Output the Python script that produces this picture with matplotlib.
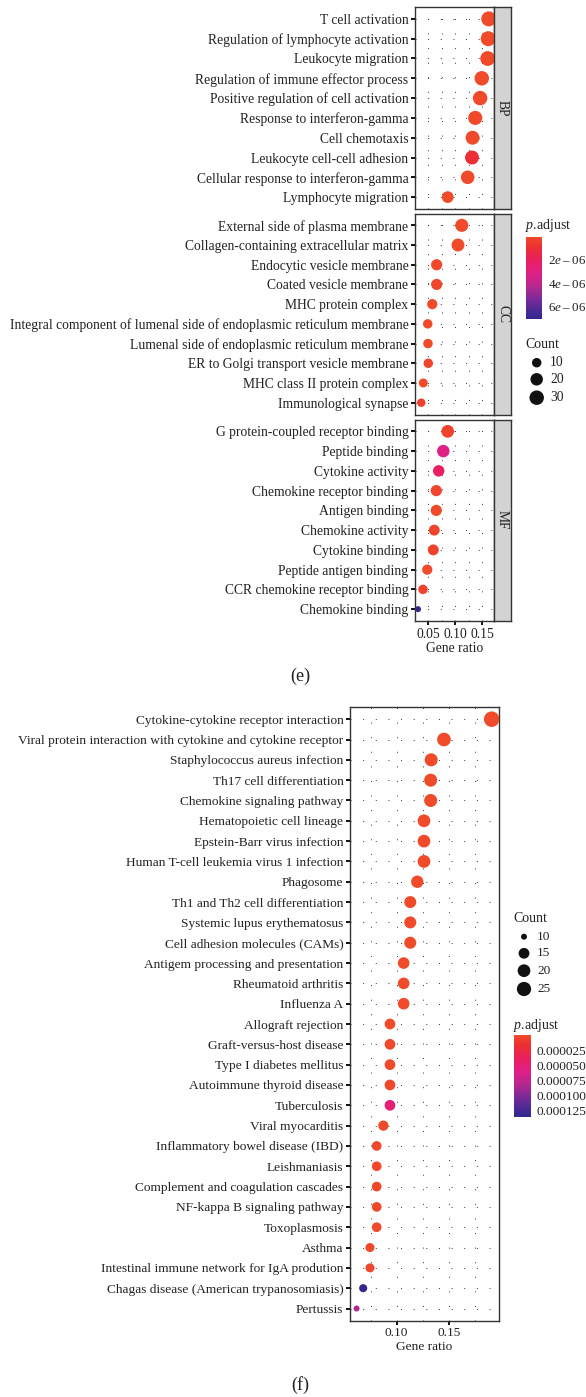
import matplotlib
matplotlib.use('Agg')
import matplotlib.pyplot as plt
import numpy as np
from matplotlib.colors import LinearSegmentedColormap, Normalize
from matplotlib.cm import ScalarMappable

plt.rcParams['font.family'] = ['Liberation Serif', 'DejaVu Serif']
plt.rcParams['mathtext.fontset'] = 'custom'
plt.rcParams['mathtext.it'] = 'Liberation Serif:italic'
plt.rcParams['mathtext.rm'] = 'Liberation Serif'
plt.rcParams['axes.unicode_minus'] = True

# ---------------- data: panel (e) ----------------
bp_terms = ["T cell activation", "Regulation of lymphocyte activation", "Leukocyte migration",
            "Regulation of immune effector process", "Positive regulation of cell activation",
            "Response to interferon-gamma", "Cell chemotaxis", "Leukocyte cell-cell adhesion",
            "Cellular response to interferon-gamma", "Lymphocyte migration"]
bp_ratio = [0.162, 0.161, 0.160, 0.149, 0.146, 0.137, 0.132, 0.131, 0.123, 0.086]
bp_count = [33, 33, 32, 30, 30, 28, 27, 27, 25, 17]
bp_padj = [1.2e-12, 3.5e-11, 8.0e-12, 2.1e-10, 5.6e-10, 1.4e-09, 3.0e-09, 9.5e-07, 2.2e-08, 4.5e-08]

cc_terms = ["External side of plasma membrane", "Collagen-containing extracellular matrix",
            "Endocytic vesicle membrane", "Coated vesicle membrane", "MHC protein complex",
            "Integral component of lumenal side of endoplasmic reticulum membrane",
            "Lumenal side of endoplasmic reticulum membrane", "ER to Golgi transport vesicle membrane",
            "MHC class II protein complex", "Immunological synapse"]
cc_ratio = [0.112, 0.105, 0.0655, 0.0655, 0.0574, 0.049, 0.0494, 0.050, 0.0407, 0.037]
cc_count = [23, 22, 15, 15, 12, 10, 10, 10, 9, 8]
cc_padj = [2e-08, 5e-08, 1e-07, 1.2e-07, 2e-09, 3e-09, 3e-09, 2e-07, 1e-08, 4e-07]

mf_terms = ["G protein-coupled receptor binding", "Peptide binding", "Cytokine activity",
            "Chemokine receptor binding", "Antigen binding", "Chemokine activity",
            "Cytokine binding", "Peptide antigen binding", "CCR chemokine receptor binding",
            "Chemokine binding"]
mf_ratio = [0.0859, 0.0778, 0.0693, 0.0648, 0.0648, 0.0611, 0.0593, 0.0481, 0.0402, 0.031]
mf_count = [21, 20, 16, 15, 15, 14, 14, 12, 10, 6]
mf_padj = [3e-07, 3.1e-06, 2.0e-06, 2e-07, 1e-08, 2e-07, 3e-07, 1e-08, 3e-07, 7.1e-06]

e_xticks = [0.05, 0.10, 0.15]
e_xticklabels = ["0.05", "0.10", "0.15"]
e_count_breaks = [10, 20, 30]
e_padj_breaks = [2e-06, 4e-06, 6e-06]
e_padj_labels = ["2$e$\u2009\u2013\u200906", "4$e$\u2009\u2013\u200906", "6$e$\u2009\u2013\u200906"]

# ---------------- data: panel (f) ----------------
kegg_terms = ["Cytokine-cytokine receptor interaction",
              "Viral protein interaction with cytokine and cytokine receptor",
              "Staphylococcus aureus infection", "Th17 cell differentiation",
              "Chemokine signaling pathway", "Hematopoietic cell lineage",
              "Epstein-Barr virus infection", "Human T-cell leukemia virus 1 infection",
              "Phagosome", "Th1 and Th2 cell differentiation", "Systemic lupus erythematosus",
              "Cell adhesion molecules (CAMs)", "Antigem processing and presentation",
              "Rheumatoid arthritis", "Influenza A", "Allograft rejection",
              "Graft-versus-host disease", "Type I diabetes mellitus",
              "Autoimmune thyroid disease", "Tuberculosis", "Viral myocarditis",
              "Inflammatory bowel disease (IBD)", "Leishmaniasis",
              "Complement and coagulation cascades", "NF-kappa B signaling pathway",
              "Toxoplasmosis", "Asthma", "Intestinal immune network for IgA prodution",
              "Chagas disease (American trypanosomiasis)", "Pertussis"]
kegg_ratio = [0.1908, 0.1452, 0.133, 0.1325, 0.1325, 0.1261, 0.1261, 0.1261, 0.1197,
              0.113, 0.113, 0.113, 0.1067, 0.1067, 0.1067, 0.0936, 0.0936, 0.0936, 0.0936,
              0.0936, 0.0873, 0.0809, 0.0809, 0.0809, 0.0809, 0.0809, 0.0745, 0.0745,
              0.068, 0.0617]
kegg_count = [30, 23, 21, 21, 21, 20, 20, 20, 19, 18, 18, 18, 17, 17, 17, 15, 15, 15, 15,
              15, 14, 13, 13, 13, 13, 13, 12, 12, 11, 10]
kegg_padj = [1e-12, 5e-10, 1e-09, 2e-09, 1e-09, 3e-09, 4e-08, 5e-08, 2e-07, 3e-07, 4e-07,
             5e-07, 6e-07, 7e-07, 8e-07, 1e-06, 1.1e-06, 1.2e-06, 1.3e-06, 5.1e-05, 1.5e-06,
             1.6e-06, 1.7e-06, 1.8e-06, 1.9e-06, 2.0e-06, 2.1e-06, 2.2e-06, 1.35e-04, 8.5e-05]
f_xticks = [0.10, 0.15]
f_xticklabels = ["0.10", "0.15"]
f_count_breaks = [10, 15, 20, 25]
f_padj_breaks = [2.5e-05, 5.0e-05, 7.5e-05, 1.0e-04, 1.25e-04]
f_padj_labels = ["0.000025", "0.000050", "0.000075", "0.000100", "0.000125"]

# ---------------- style ----------------
cmap = LinearSegmentedColormap.from_list("padj", [
    (0.0, '#EF4B2A'), (0.12, '#EC2F33'), (0.28, '#E8205E'), (0.45, '#DE2088'),
    (0.6, '#B8278F'), (0.75, '#7F2A98'), (0.9, '#4A2A94'), (1.0, '#33288C')])
TXT = '#222222'
FS_E = 9.85
FS_F = 9.6

W, H = 586, 1397
fig = plt.figure(figsize=(W / 100, H / 100), dpi=100)


def px_axes(x0, y0, x1, y1, **kw):
    return fig.add_axes([x0 / W, 1 - y1 / H, (x1 - x0) / W, (y1 - y0) / H], **kw)


def size_e(c):
    d = 6 + 9.0 * np.sqrt((np.asarray(c, float) - 6) / 27.0)
    return (d * 0.72) ** 2


def size_f(c):
    d = 6 + 9.5 * np.sqrt(np.clip((np.asarray(c, float) - 10) / 20.0, 0, None))
    return (d * 0.72) ** 2


def dot_panel(ax, terms, ratio, count, padj, xlim, norm, sizef, xticks, xticklabels,
              show_x, fs, minor=None):
    n = len(terms)
    y = np.arange(n, 0, -1)
    ax.set_xlim(*xlim)
    ax.set_ylim(0.4, n + 0.6)
    for yy in y:
        ax.axhline(yy, color='#333333', lw=0.7, ls=(0, (1, 12)), zorder=0)
    for xx in list(xticks) + list(minor or []):
        ax.axvline(xx, color='#333333', lw=0.7, ls=(0, (1, 14)), zorder=0)
    ax.scatter(ratio, y, s=sizef(count), c=padj, cmap=cmap, norm=norm,
               edgecolors='none', zorder=3)
    ax.set_yticks(y)
    ax.set_yticklabels(terms, fontsize=fs, color=TXT)
    ax.set_xticks(xticks)
    if show_x:
        ax.set_xticklabels(xticklabels, fontsize=fs, color=TXT)
    else:
        ax.set_xticklabels([])
    ax.tick_params(axis='y', length=3.2, width=1.4, pad=1.5, color='#111111')
    ax.tick_params(axis='x', length=3.2 if show_x else 0, width=1.4, pad=1.5, color='#111111')
    for s in ax.spines.values():
        s.set_color('#333333')
        s.set_linewidth(1.0)


def strip(y0, y1, label):
    sa = px_axes(494, y0, 511, y1)
    sa.set_facecolor('#D3D3D3')
    sa.set_xticks([]); sa.set_yticks([])
    for s in sa.spines.values():
        s.set_color('#333333'); s.set_linewidth(1.0)
    sa.text(0.5, 0.5, label, rotation=270, ha='center', va='center', fontsize=FS_E,
            color=TXT, transform=sa.transAxes)


# ---------------- panel (e) ----------------
norm_e = Normalize(vmin=0, vmax=7.1e-06)
xlim_e = (0.0254, 0.1717)
minor_e = [0.075, 0.125]
panels = [(bp_terms, bp_ratio, bp_count, bp_padj, 7, 209, "BP", False),
          (cc_terms, cc_ratio, cc_count, cc_padj, 213.5, 414.5, "CC", False),
          (mf_terms, mf_ratio, mf_count, mf_padj, 419.5, 621, "MF", True)]
for terms, ratio, count, padj, y0, y1, lab, showx in panels:
    ax = px_axes(415, y0, 494, y1)
    dot_panel(ax, terms, ratio, count, padj, xlim_e, norm_e, size_e, e_xticks,
              e_xticklabels, showx, FS_E, minor_e)
    if showx:
        ax.set_xlabel("Gene ratio", fontsize=FS_E, color=TXT, labelpad=1)
    strip(y0, y1, lab)

# ---------------- panel (f) ----------------
norm_f = Normalize(vmin=0, vmax=1.35e-04)
axf = px_axes(350, 707, 499, 1320.7)
dot_panel(axf, kegg_terms, kegg_ratio, kegg_count, kegg_padj, (0.0554, 0.1978), norm_f,
          size_f, f_xticks, f_xticklabels, True, FS_F, [0.075, 0.125, 0.175])
axf.set_xlabel("Gene ratio", fontsize=FS_F, color=TXT, labelpad=1)

# ---------------- overlay for legends and captions ----------------
ov = fig.add_axes([0, 0, 1, 1], zorder=-1)
ov.set_xlim(0, W); ov.set_ylim(H, 0); ov.axis('off')

# (e) legends
ov.text(525, 226, r"$p$.adjust", fontsize=10, color=TXT, ha='left', va='center')
cax_e = px_axes(526, 236.7, 542, 319)
cb = fig.colorbar(ScalarMappable(norm=norm_e, cmap=cmap), cax=cax_e)
cb.outline.set_visible(False)
cax_e.invert_yaxis()
cb.set_ticks(e_padj_breaks)
cb.set_ticklabels(e_padj_labels)
cax_e.tick_params(length=0, labelsize=9.4, labelcolor=TXT, pad=4)

ov.text(525, 345, "Count", fontsize=10, color=TXT, ha='left', va='center')
for yy, c in zip([362.7, 379.3, 397.7], e_count_breaks):
    ov.scatter([536.7], [yy], s=size_e([c]), color='#111111', edgecolors='none')
    ov.text(550, yy, str(c), fontsize=FS_E, color=TXT, ha='left', va='center')

# (f) legends
ov.text(513, 919, "Count", fontsize=10, color=TXT, ha='left', va='center')
for yy, c in zip([936.7, 953.3, 970.7, 989], f_count_breaks):
    ov.scatter([524], [yy], s=size_f([c]), color='#111111', edgecolors='none')
    ov.text(537, yy, str(c), fontsize=FS_F, color=TXT, ha='left', va='center')

ov.text(513, 1025, r"$p$.adjust", fontsize=10, color=TXT, ha='left', va='center')
cax_f = px_axes(514, 1035, 530.7, 1116.7)
cb2 = fig.colorbar(ScalarMappable(norm=norm_f, cmap=cmap), cax=cax_f)
cb2.outline.set_visible(False)
cax_f.invert_yaxis()
cb2.set_ticks(f_padj_breaks)
cb2.set_ticklabels(f_padj_labels)
cax_f.tick_params(length=0, labelsize=FS_F, labelcolor=TXT, pad=4)

ov.text(300, 676, "(e)", fontsize=13, color=TXT, ha='center', va='center')
ov.text(300, 1385, "(f)", fontsize=13, color=TXT, ha='center', va='center')

fig.savefig("out.png", dpi=100)
